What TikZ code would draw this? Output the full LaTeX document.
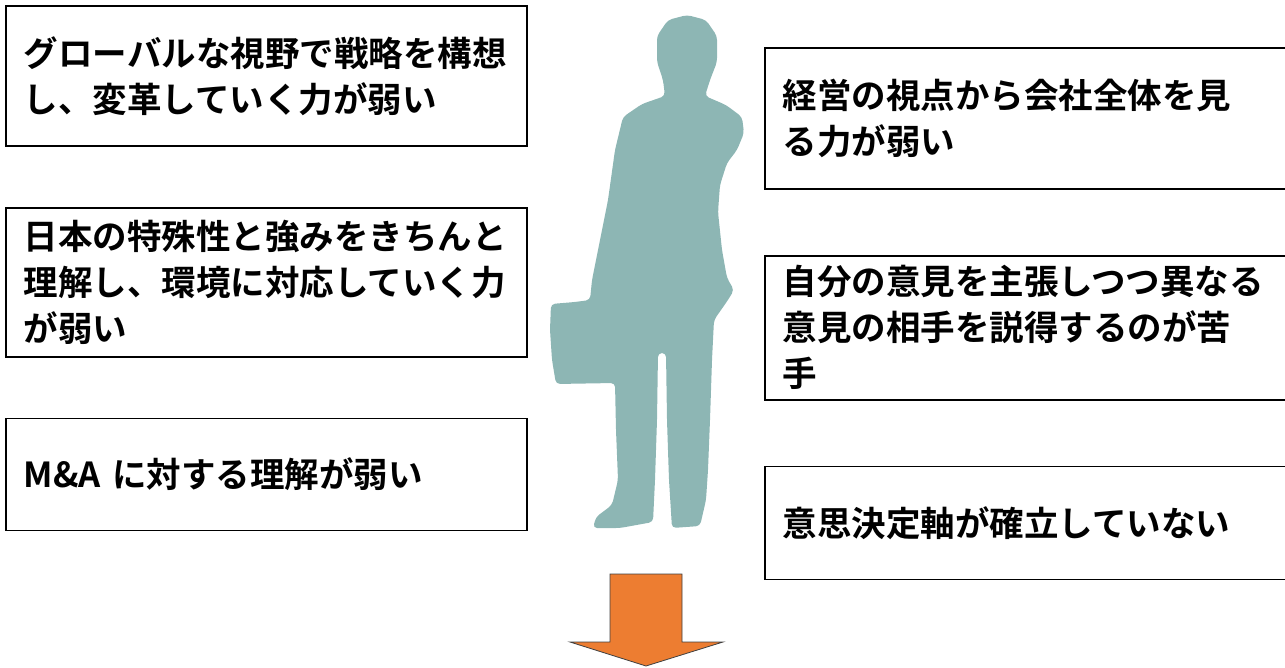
\documentclass[tikz,border=0pt]{standalone}
\usepackage{fontspec}
\setmainfont{Noto Sans CJK JP}[BoldFont=* Bold]
\usetikzlibrary{positioning}

\definecolor{figteal}{RGB}{141,182,180}
\definecolor{arroworange}{RGB}{237,125,49}

\begin{document}
\begin{tikzpicture}[x=1pt, y=-1pt, node distance=60pt,
    weakbox/.style={draw, line width=1.8pt, minimum width=521pt,
      minimum height=#1, text width=485pt, inner xsep=18pt, align=left,
      font=\fontsize{34.5}{46}\selectfont\bfseries}]
  \useasboundingbox (0,0) rectangle (1285,668);

  % left column
  \node[weakbox=140pt, anchor=north west] (left1) at (5,5)
    {グローバルな視野で戦略を構想\\し、変革していく力が弱い};
  \node[weakbox=149pt, below=of left1] (left2)
    {日本の特殊性と強みをきちんと\\理解し、環境に対応していく力\\が弱い};
  \node[weakbox=112pt, below=of left2] (left3)
    {M\&A に対する理解が弱い};

  % right column
  \node[weakbox=141pt, anchor=north west] (right1) at (764,47)
    {経営の視点から会社全体を見\\る力が弱い};
  \node[weakbox=144pt, below=65pt of right1] (right2)
    {自分の意見を主張しつつ異なる\\意見の相手を説得するのが苦\\手};
  \node[weakbox=113pt, below=65pt of right2] (right3)
    {意思決定軸が確立していない};

  % man with briefcase
  \fill[figteal, rounded corners=4pt]
    (623,117) -- (642,104) -- (665,96) -- (663,80) -- (657,62) -- (657,36)
    -- (668,20) -- (687,15) -- (706,20) -- (717,36) -- (717,62) -- (710,80)
    -- (705,96) -- (726,105) -- (742,117) -- (744,133) -- (737,150)
    -- (727,163) -- (720,185) -- (718,212) -- (722,250) -- (727,278)
    -- (734,290) -- (728,300) -- (714,320) -- (712,360) -- (710,420)
    -- (708,470) -- (706,500) -- (700,526) -- (672,528) -- (669,480)
    -- (667,420) -- (666,353) -- (658,353) -- (657,420) -- (655,480)
    -- (653,522) -- (620,528) -- (593,528) -- (596,517) -- (612,505)
    -- (618,480) -- (616,430) -- (615,383) -- (556,384) -- (552,360)
    -- (550,330) -- (551,304) -- (575,302) -- (590,300) -- (592,280)
    -- (600,240) -- (608,200) -- (615,150) -- cycle;

  % big arrow pointing down
  \filldraw[fill=arroworange, draw=black!75, line width=0.8pt]
    (610,574) -- (682,574) -- (682,642) -- (723,642) -- (646,666)
    -- (570,642) -- (610,642) -- cycle;
\end{tikzpicture}
\end{document}
